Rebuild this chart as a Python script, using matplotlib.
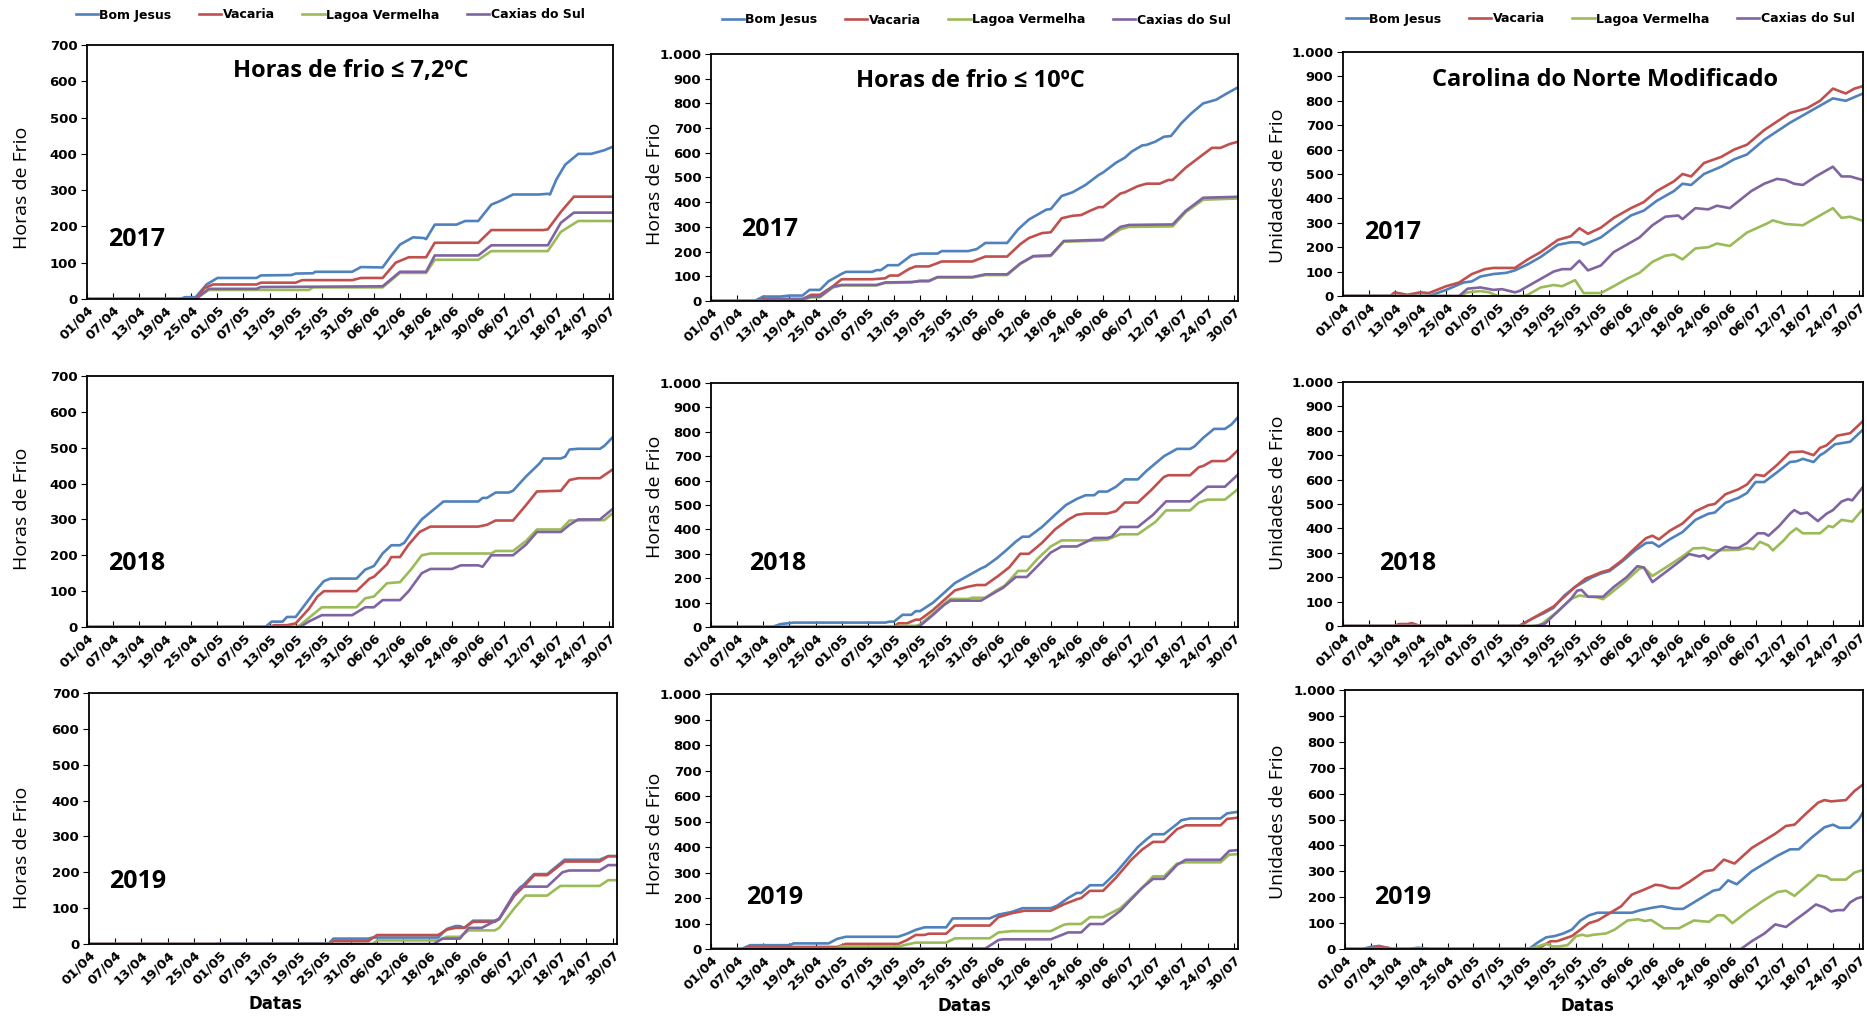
import matplotlib
matplotlib.use("Agg")
import matplotlib.pyplot as plt
from matplotlib.ticker import FuncFormatter

W, H = 1867, 1017

# x axis: day index from 01/04 (0) to 31/07 (121)
tick_days = [0, 6, 12, 18, 24, 30, 36, 42, 48, 54, 60, 66, 72, 78, 84, 90, 96, 102, 108, 114, 120]
tick_labels = ["01/04", "07/04", "13/04", "19/04", "25/04", "01/05", "07/05", "13/05", "19/05",
               "25/05", "31/05", "06/06", "12/06", "18/06", "24/06", "30/06", "06/07", "12/07",
               "18/07", "24/07", "30/07"]

stations = ["Bom Jesus", "Vacaria", "Lagoa Vermelha", "Caxias do Sul"]
colors = ["#4F81BD", "#C0504D", "#9BBB59", "#8064A2"]

# (day, value) points
hf72_2017 = {
    "Bom Jesus": [(0, 0), (21.5, 0), (22.5, 5), (25, 5), (27.5, 40), (30, 58), (39, 58), (40, 65), (47, 66), (48, 70),
                  (52, 71), (52.5, 75), (61, 75), (63, 88), (68, 87), (70, 120), (72, 150), (75, 170), (77.5, 168),
                  (78, 165), (80, 205), (85, 205), (87, 215), (90, 215), (93, 260), (95, 270), (98, 288), (104, 288),
                  (106, 290), (106.5, 288), (108, 330), (110, 370), (113, 400), (116, 400), (119, 410), (121, 420)],
    "Vacaria": [(0, 0), (25, 0), (27, 30), (29, 40), (39, 40), (40, 45), (48, 45), (49.5, 52), (61, 52), (63, 58),
                (68, 58), (71, 100), (74, 115), (78, 115), (80, 155), (90, 155), (93, 190), (105, 190), (106, 192),
                (109, 240), (112, 282), (121, 282)],
    "Lagoa Vermelha": [(0, 0), (25, 0), (28, 25), (51, 25), (52, 32), (68, 32), (72, 72), (78, 72), (80, 108),
                       (90, 108), (93, 132), (106, 132), (109, 185), (113, 215), (121, 215)],
    "Caxias do Sul": [(0, 0), (25, 0), (28, 28), (39, 28), (40, 33), (68, 35), (72, 75), (78, 75), (80, 120),
                      (90, 120), (93, 148), (106, 148), (109, 210), (112, 238), (121, 238)],
}

hf10_2017 = {
    "Bom Jesus": [(0, 0), (10, 0), (12, 18), (16, 18), (18, 22), (21, 22), (22.6, 45), (25, 45), (27, 80), (30, 110),
                  (31, 118), (37, 118), (38, 125), (39, 125), (40.6, 145), (43, 145), (46, 185), (48, 192), (52, 192),
                  (53, 202), (59, 202), (61, 210), (63, 235), (68, 235), (70.5, 290), (73, 330), (77, 370), (78, 372),
                  (80.5, 425), (83, 440), (86, 470), (89, 510), (90, 520), (93, 560), (95, 580), (96.6, 605),
                  (99, 630), (100, 632), (102, 645), (104, 665), (105.6, 668), (108, 720), (110.3, 760), (113, 800),
                  (116, 815), (118.4, 840), (121, 865)],
    "Vacaria": [(0, 0), (11, 0), (12, 8), (21, 8), (23, 25), (25, 25), (28, 60), (30, 88), (37, 88), (40, 92),
                (41, 103), (43, 103), (45.5, 130), (47, 140), (50, 140), (53, 160), (60, 160), (63, 180), (68, 180),
                (71, 230), (73, 255), (76, 275), (78, 278), (80.5, 335), (83, 345), (85, 348), (87, 365), (89, 380),
                (90, 380), (94, 435), (95, 440), (98, 465), (100, 475), (103, 475), (105, 490), (106, 490),
                (109, 540), (112, 580), (115, 620), (117, 620), (119, 635), (121, 645)],
    "Lagoa Vermelha": [(0, 0), (12, 0), (13, 5), (21, 5), (23, 15), (25, 15), (28, 55), (30, 63), (38, 63), (40, 73),
                       (46, 75), (48, 83), (50, 83), (52, 95), (60, 95), (63, 105), (68, 105), (71, 150), (74, 180),
                       (78, 182), (81, 240), (90, 245), (94, 290), (96, 300), (106, 302), (109, 360), (113, 410),
                       (121, 415)],
    "Caxias do Sul": [(0, 0), (12, 0), (13, 8), (21, 8), (23, 18), (25, 18), (28, 58), (30, 65), (38, 65), (40, 75),
                      (46, 77), (48, 80), (50, 80), (52, 97), (60, 97), (63, 108), (68, 108), (71, 152), (74, 182),
                      (78, 185), (81, 243), (90, 248), (94, 300), (96, 308), (106, 310), (109, 365), (113, 418),
                      (121, 422)],
}

cn_2017 = {
    "Bom Jesus": [(0, 0), (20, 0), (24, 25), (28, 55), (30, 60), (32, 80), (35, 90), (38, 95), (40, 105), (43, 130),
                  (46, 160), (50, 210), (53, 220), (55, 220), (56, 210), (60, 240), (63, 280), (67, 330), (70, 350),
                  (73, 390), (77, 430), (79, 460), (81, 455), (84, 500), (88, 530), (91, 560), (94, 580), (98, 640),
                  (104, 710), (106, 730), (108, 750), (111, 780), (114, 810), (117, 800), (121, 830)],
    "Vacaria": [(0, 0), (11, 0), (12, 15), (15, 5), (18, 15), (20, 12), (24, 40), (27, 55), (30, 90), (33, 110),
                (35, 115), (40, 115), (43, 150), (46, 180), (50, 230), (53, 245), (55, 278), (57, 255), (60, 280),
                (63, 320), (67, 360), (70, 385), (73, 430), (77, 470), (79, 500), (81, 490), (84, 545), (88, 570),
                (91, 600), (94, 620), (98, 680), (104, 750), (108, 770), (111, 800), (114, 850), (117, 830),
                (119, 850), (121, 860)],
    "Lagoa Vermelha": [(0, 0), (27, 0), (29, 15), (32, 20), (34, 15), (36, 0), (42, 0), (43, 5), (46, 35), (49, 45),
                       (51, 40), (54, 65), (56, 12), (60, 12), (63, 40), (66, 70), (69, 95), (72, 140), (75, 165),
                       (77, 170), (79, 150), (82, 195), (85, 200), (87, 215), (90, 205), (94, 260), (99, 300),
                       (100, 310), (103, 295), (107, 290), (110, 320), (114, 360), (116, 320), (118, 325), (121, 308)],
    "Caxias do Sul": [(0, 0), (27, 0), (29, 30), (32, 35), (35, 25), (37, 28), (40, 15), (41, 20), (44, 50),
                      (46, 70), (49, 100), (51, 110), (53, 110), (55, 145), (57, 105), (60, 125), (63, 180), (66, 210),
                      (69, 240), (72, 290), (75, 325), (78, 330), (79, 315), (82, 360), (85, 355), (87, 370),
                      (90, 360), (95, 430), (98, 460), (101, 480), (103, 475), (105, 460), (107, 455), (110, 490),
                      (114, 530), (116, 490), (118, 490), (121, 475)],
}

hf72_2018 = {
    "Bom Jesus": [(0, 0), (41, 0), (42.5, 15), (45, 15), (46, 28), (48, 28), (50, 60), (52.5, 100), (54.5, 128),
                  (56, 135), (62, 135), (64, 160), (66, 170), (68, 205), (70, 228), (72, 228), (73, 235), (75, 270),
                  (77, 300), (80, 330), (82, 350), (90, 350), (91, 360), (92, 360), (94, 375), (97, 375), (98, 380),
                  (101, 420), (104, 455), (105, 470), (109, 470), (110, 475), (111, 495), (113, 497), (118, 497),
                  (119, 505), (121, 530)],
    "Vacaria": [(0, 0), (42, 0), (43, 5), (46, 5), (48, 10), (51, 50), (53, 85), (54.5, 100), (62, 100), (65, 135),
                (66, 140), (69, 175), (70, 195), (72, 195), (74, 230), (76.5, 265), (79, 280), (90, 280), (92, 285),
                (94, 297), (98, 297), (101, 340), (103.5, 378), (109, 380), (111, 410), (113, 415), (118, 415),
                (121, 440)],
    "Lagoa Vermelha": [(0, 0), (48, 0), (49, 5), (51.5, 30), (54, 55), (62, 55), (64, 80), (66, 85), (69, 122),
                       (72, 125), (74.5, 160), (77, 200), (79, 205), (93, 205), (94, 212), (98, 212), (101, 240),
                       (103.5, 272), (109, 272), (111, 297), (119, 298), (121, 318)],
    "Caxias do Sul": [(0, 0), (49, 0), (51, 15), (54, 33), (61, 33), (64, 55), (66, 55), (68, 75), (72, 75),
                      (74, 100), (77, 150), (79, 162), (84, 162), (86, 172), (90, 172), (91, 168), (93, 200),
                      (98, 200), (101, 230), (103.5, 265), (109, 265), (111, 285), (113, 300), (118, 300), (121, 330)],
}

hf10_2018 = {
    "Bom Jesus": [(0, 0), (14, 0), (16, 12), (19, 18), (40, 18), (41, 22), (42, 22), (44, 50), (46, 50), (47, 65),
                  (48, 65), (51, 100), (53.5, 140), (56, 180), (59, 210), (62, 240), (63, 248), (65.5, 280),
                  (67.5, 310), (70, 350), (71.5, 370), (73, 370), (76, 410), (79, 460), (81.5, 500), (84, 525),
                  (86, 540), (88, 540), (89, 555), (91, 555), (93, 575), (95, 605), (98, 605), (100, 640), (104, 700),
                  (107, 730), (110, 730), (111, 740), (113, 775), (115.5, 812), (118, 812), (119.5, 830), (121, 860)],
    "Vacaria": [(0, 0), (42, 0), (43, 15), (45, 15), (47, 30), (48, 30), (51, 70), (53.5, 110), (56, 150),
                (59, 165), (61, 172), (63, 172), (66, 210), (68.5, 245), (71, 300), (73, 300), (76, 345), (79, 400),
                (82, 440), (84, 460), (86, 465), (91, 465), (93, 475), (95, 510), (98, 510), (101, 560), (104, 615),
                (105, 622), (110, 622), (112, 655), (113, 660), (115, 680), (118, 680), (119, 690), (121, 725)],
    "Lagoa Vermelha": [(0, 0), (42, 0), (43, 5), (47, 5), (48, 10), (51, 55), (53.5, 95), (55, 115), (59, 115),
                       (60, 120), (63, 120), (65.5, 150), (67.5, 170), (70.5, 230), (72.5, 230), (75, 280), (78, 330),
                       (80.5, 355), (88, 355), (91, 358), (94, 380), (98, 380), (102, 430), (104.5, 478), (110, 478),
                       (112, 510), (114, 522), (118, 522), (121, 565)],
    "Caxias do Sul": [(0, 0), (47, 0), (48, 5), (51, 50), (53.5, 90), (55, 108), (62, 108), (65.5, 145), (67, 160),
                      (70, 205), (72.5, 205), (75, 250), (78, 305), (80.5, 330), (84, 330), (88, 365), (91, 365),
                      (92, 370), (94, 410), (98, 410), (101.5, 460), (104.5, 515), (110, 515), (112, 545), (114, 575),
                      (118, 575), (121, 625)],
}

cn_2018 = {
    "Bom Jesus": [(0, 0), (41, 0), (44, 30), (47, 55), (49, 75), (51.5, 125), (54, 160), (56.5, 185), (58, 200),
                  (60, 215), (62, 225), (65, 265), (68, 310), (70.5, 340), (72, 342), (73.5, 325), (76, 355),
                  (79, 385), (82, 435), (85, 460), (86.5, 465), (89, 505), (92, 525), (94, 545), (96, 590), (98, 590),
                  (101, 630), (104, 672), (105.5, 675), (107, 685), (109.5, 672), (111, 700), (112, 710),
                  (114.5, 745), (118, 755), (121, 805)],
    "Vacaria": [(0, 0), (12, 0), (13, 8), (15, 8), (16, 12), (18, 0), (41, 0), (44, 30), (47, 60), (49, 80),
                (51.5, 120), (54, 160), (56.5, 195), (58, 205), (60, 220), (62, 230), (65, 270), (68, 320),
                (70.5, 360), (72, 370), (73.5, 355), (76, 390), (79, 420), (82, 470), (85, 495), (86.5, 500),
                (89, 540), (92, 560), (94, 580), (96, 620), (98, 615), (101, 660), (104, 712), (107, 715),
                (109.5, 700), (111, 730), (112.5, 740), (115, 780), (118, 790), (121, 840)],
    "Lagoa Vermelha": [(0, 0), (44, 0), (46, 5), (50, 60), (53, 110), (55, 125), (57, 120), (59, 118), (60.5, 110),
                       (62, 130), (65.5, 180), (69, 235), (70, 240), (72, 205), (76, 250), (79, 285), (81.5, 318),
                       (84, 320), (86, 310), (92, 312), (94, 320), (95.5, 315), (97, 345), (99, 330), (100, 310),
                       (102.5, 350), (104, 380), (105.5, 400), (107, 380), (111, 380), (113, 410), (114, 405),
                       (116, 435), (118.5, 428), (121, 480)],
    "Caxias do Sul": [(0, 0), (45, 0), (47, 10), (50, 60), (53, 110), (54.5, 145), (55.5, 148), (57, 120),
                      (60.5, 120), (63, 160), (66, 200), (68.5, 245), (70, 240), (72, 180), (75, 220), (78, 260),
                      (80.5, 295), (83, 285), (84, 290), (85, 275), (88, 315), (89, 325), (90.5, 320), (92, 320),
                      (94, 340), (96.5, 380), (98, 380), (99, 370), (101.5, 410), (104, 460), (105, 475),
                      (106.5, 460), (108, 465), (110.5, 430), (112.5, 460), (114, 475), (116, 510), (117.5, 520),
                      (118.5, 515), (121, 570)],
}

hf72_2019 = {
    "Bom Jesus": [(0, 0), (29, 0), (30, 2), (55, 2), (56, 15), (64, 15), (65, 18), (80, 18), (82, 42), (84, 50),
                  (85, 50), (86, 45), (88, 65), (93, 65), (94, 70), (97.5, 140), (100, 170), (102, 195), (105, 195),
                  (109, 235), (117, 235), (119, 245), (121, 245)],
    "Vacaria": [(0, 0), (55, 0), (56, 8), (64, 8), (66, 25), (80, 25), (82, 40), (84, 45), (86, 45), (88, 62),
                (93, 62), (94, 70), (97.5, 135), (100, 165), (102, 192), (105, 192), (109, 230), (117, 230),
                (119, 245), (121, 245)],
    "Lagoa Vermelha": [(0, 0), (65, 0), (66, 10), (80, 10), (82, 20), (85, 20), (87, 38), (93, 38), (94, 45),
                       (97.5, 100), (100, 135), (105, 135), (108, 162), (117, 162), (119, 178), (121, 178)],
    "Caxias do Sul": [(0, 0), (79, 0), (81, 15), (85, 15), (87, 45), (90, 45), (94, 70), (97.5, 140), (99, 160),
                      (105, 160), (108.5, 200), (110, 205), (117, 205), (119, 220), (121, 220)],
}

hf10_2019 = {
    "Bom Jesus": [(0, 0), (7, 0), (9, 15), (18, 15), (19, 22), (27, 22), (29, 40), (31, 48), (43, 48), (45, 60),
                  (47, 75), (49, 85), (54, 85), (55.5, 120), (64, 120), (66, 135), (69, 145), (71.5, 160), (78, 160),
                  (79.5, 170), (82, 200), (84, 220), (85, 220), (87, 250), (90, 250), (93, 300), (96, 360), (98, 400),
                  (100, 430), (101.5, 450), (104, 450), (107, 490), (108, 505), (110, 512), (117, 512),
                  (118.5, 532), (121, 538)],
    "Vacaria": [(0, 0), (7, 0), (9, 8), (29, 8), (31, 20), (43, 20), (45, 35), (47, 55), (49, 55), (50, 60),
                (54, 60), (56, 92), (64, 92), (66, 125), (69, 140), (72, 150), (78, 150), (81, 175), (84, 195),
                (85, 200), (87, 228), (90, 228), (93, 280), (96.5, 350), (99, 390), (101.5, 420), (104, 420),
                (107, 470), (109, 485), (117, 485), (118.5, 510), (121, 515)],
    "Lagoa Vermelha": [(0, 0), (10, 0), (11, 3), (29, 3), (30, 10), (43, 10), (47, 25), (54, 25), (56, 42),
                       (64, 42), (66, 65), (69, 70), (78, 70), (81, 95), (82, 98), (85, 98), (87, 125), (90, 125),
                       (94, 160), (99, 240), (101.5, 285), (104, 285), (107, 335), (109, 340), (117, 340), (119, 370),
                       (121, 372)],
    "Caxias do Sul": [(0, 0), (10, 0), (11, 2), (63, 2), (66, 35), (67, 38), (78, 38), (82, 65), (85, 65), (87, 98),
                      (90, 98), (94, 150), (99, 240), (101.5, 275), (104, 275), (107, 330), (109, 350), (117, 350),
                      (119, 385), (121, 388)],
}

cn_2019 = {
    "Bom Jesus": [(0, 0), (4, 0), (6, 8), (8, 12), (11, 0), (15, 0), (17, 5), (20, 0), (43, 0), (45, 25), (47, 45),
                  (49, 50), (51, 60), (53, 75), (55, 110), (57, 130), (59, 140), (67, 140), (69, 150), (72, 160),
                  (74, 165), (77, 155), (79, 155), (82, 185), (86, 225), (87.5, 230), (89.5, 265), (91.5, 250),
                  (95, 300), (98, 330), (101, 360), (104, 385), (106, 385), (109, 430), (112, 470), (114, 480),
                  (115.5, 468), (118, 468), (120, 500), (121, 528)],
    "Vacaria": [(0, 0), (5, 0), (8, 8), (10, 5), (11, 0), (45, 0), (48, 30), (49.5, 30), (53, 50), (57, 100),
                (59, 110), (62, 140), (64.5, 165), (67, 210), (70, 230), (72.5, 248), (74, 245), (76, 235), (78, 235),
                (80.5, 260), (84, 300), (86, 305), (88.5, 345), (91, 330), (95, 390), (98, 420), (100.5, 445),
                (103, 475), (105, 480), (107.5, 520), (110.5, 565), (112, 575), (113.5, 570), (117, 575),
                (119, 610), (121, 635)],
    "Lagoa Vermelha": [(0, 0), (43, 0), (47, 20), (48.5, 10), (50, 10), (52, 15), (54, 50), (55.5, 55), (56.5, 50),
                       (58, 55), (61, 60), (63, 75), (66, 110), (68.5, 115), (70, 108), (71.5, 112), (74.5, 80),
                       (78, 80), (81.5, 110), (85, 105), (87, 130), (88.5, 130), (90.5, 100), (94, 145), (98, 190),
                       (101, 220), (103, 225), (105, 205), (108.5, 255), (110.5, 285), (112.5, 280), (113.5, 268),
                       (117, 268), (119, 295), (121, 305)],
    "Caxias do Sul": [(0, 0), (92.5, 0), (95, 30), (98, 60), (100.5, 95), (103, 85), (105, 110), (107.5, 140),
                      (110, 172), (112, 160), (113.5, 145), (115, 150), (116.5, 150), (118, 180), (119.5, 195),
                      (121, 202)],
}

panels = [
    [hf72_2017, hf10_2017, cn_2017],
    [hf72_2018, hf10_2018, cn_2018],
    [hf72_2019, hf10_2019, cn_2019],
]
years = ["2017", "2018", "2019"]
titles = ["Horas de frio \u2264 7,2\u00baC", "Horas de frio \u2264 10\u00baC", "Carolina do Norte Modificado"]
ylabels = ["Horas de Frio", "Horas de Frio", "Unidades de Frio"]
ymax = [700, 1000, 1000]

# axes boxes in pixels: left, top, right, bottom
boxes = [
    [(87, 45, 613, 299), (711, 54, 1238, 301), (1343, 52, 1863, 296)],
    [(87, 376, 613, 627), (711, 383, 1238, 627), (1343, 382, 1863, 626)],
    [(89, 693, 617, 944), (711, 694, 1238, 949), (1345, 690, 1863, 949)],
]
year_pos = [
    [(137, 240), (770, 230), (1393, 233)],
    [(137, 564), (778, 564), (1408, 564)],
    [(138, 882), (775, 897), (1403, 897)],
]
ylabel_y = [
    [188, 184, 186],
    [509, 497, 493],
    [848, 834, 822],
]
title_pos = [(351, 71), (970, 81), (1605, 80)]
legend_pos = [(330, 15), (976, 20), (1600, 19)]
ylabel_x = [22, 655, 1278]
datas_pos = [(275, 1004), (964, 1006), (1587, 1006)]


def fx(x):
    return x / W


def fy(y):
    return 1 - y / H


def thousands(v, pos):
    return "{:,.0f}".format(v).replace(",", ".")


fig = plt.figure(figsize=(W / 100, H / 100), dpi=100)
text_font = ["Open Sans", "DejaVu Sans"]

for r in range(3):
    for c in range(3):
        l, t, rr, b = boxes[r][c]
        ax = fig.add_axes([fx(l), fy(b), (rr - l) / W, (b - t) / H])
        data = panels[r][c]
        for name, col in zip(stations, colors):
            pts = data[name]
            ax.plot([p[0] for p in pts], [p[1] for p in pts], color=col, lw=1.9, label=name)
        ax.set_xlim(0, 121)
        ax.set_ylim(0, ymax[c])
        ax.set_yticks(range(0, ymax[c] + 1, 100))
        ax.yaxis.set_major_formatter(FuncFormatter(thousands))
        ax.set_xticks(tick_days)
        ax.set_xticklabels(tick_labels, rotation=45, ha="right", rotation_mode="anchor")
        ax.tick_params(axis="x", direction="in", length=4, labelsize=9.5, pad=3)
        ax.tick_params(axis="y", direction="out", length=4, labelsize=9.5, pad=3)
        for lab in ax.get_xticklabels() + ax.get_yticklabels():
            lab.set_fontweight("bold")
        for sp in ax.spines.values():
            sp.set_linewidth(1.3)
            sp.set_color("black")

        yx, yy = year_pos[r][c]
        fig.text(fx(yx), fy(yy), years[r], fontsize=18, fontweight="bold", family=text_font,
                 ha="center", va="center")
        fig.text(fx(ylabel_x[c]), fy(ylabel_y[r][c]), ylabels[c], fontsize=14, family=text_font,
                 fontweight="medium", rotation=90, ha="center", va="center")

        if r == 0:
            tx, ty = title_pos[c]
            fig.text(fx(tx), fy(ty), titles[c], fontsize=17, fontweight="bold", family=text_font,
                     ha="center", va="center")
            lx, ly = legend_pos[c]
            ax.legend(loc="center", bbox_to_anchor=(fx(lx), fy(ly)), bbox_transform=fig.transFigure,
                      ncol=4, frameon=False, handlelength=1.8, handletextpad=0.1, columnspacing=2.2,
                      prop={"size": 9, "weight": "bold"})
        if r == 2:
            dx, dy = datas_pos[c]
            fig.text(fx(dx), fy(dy), "Datas", fontsize=12, fontweight="bold", ha="center", va="center")

fig.savefig("out.png", dpi=100)
